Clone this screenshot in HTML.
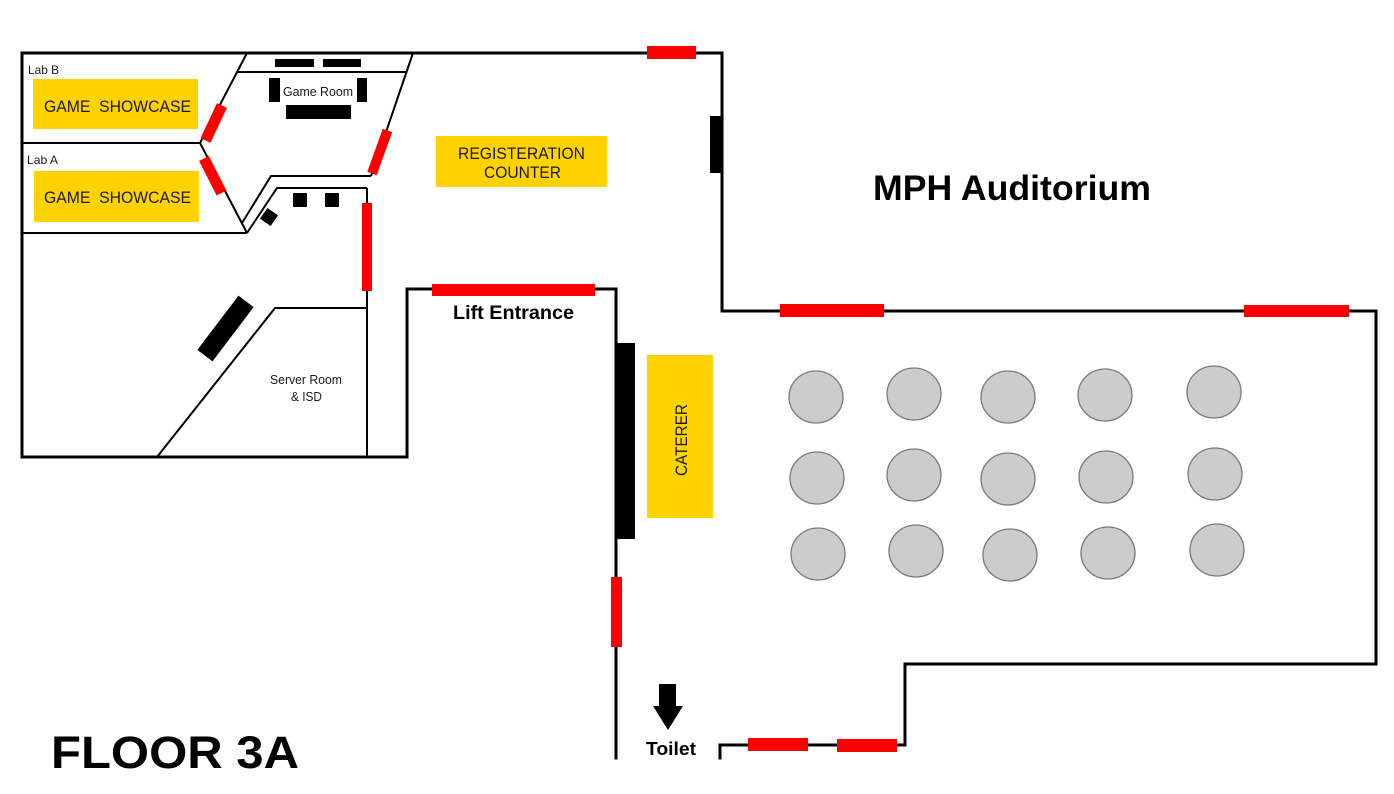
<!DOCTYPE html>
<html>
<head>
<meta charset="utf-8">
<style>
  html, body { margin: 0; padding: 0; background: #ffffff; }
  svg { display: block; }
  text { font-family: "Liberation Sans", "DejaVu Sans", sans-serif; }
</style>
</head>
<body>
<svg width="1394" height="794" viewBox="0 0 1394 794" xmlns="http://www.w3.org/2000/svg">
  <rect x="0" y="0" width="1394" height="794" fill="#ffffff"/>

  <!-- Outer walls -->
  <g fill="none" stroke="#000" stroke-width="3" stroke-linejoin="miter" stroke-linecap="square">
    <path d="M22,53 H722 V311 H1376 V664 H905 V745 H720 V758"/>
    <path d="M22,53 V457 H407 V289 H616 V758"/>
  </g>

  <!-- Inner walls -->
  <g fill="none" stroke="#000" stroke-width="2" stroke-linejoin="miter">
    <path d="M22,143 H200"/>
    <path d="M22,233 H247"/>
    <path d="M247,53 L200,143 L247,233"/>
    <path d="M237,72 H407"/>
    <path d="M413,53 L371,176"/>
    <path d="M242,223 L271,176 H371"/>
    <path d="M247,233 L277,188 H367"/>
    <path d="M367,188 V457"/>
    <path d="M157,457 L275,308 H367"/>
  </g>

  <!-- Yellow boxes -->
  <g fill="#ffd200">
    <rect x="33" y="79" width="165" height="50"/>
    <rect x="34" y="171" width="165" height="51"/>
    <rect x="436" y="136" width="171" height="51"/>
    <rect x="647" y="355" width="66" height="163"/>
  </g>

  <!-- Black furniture / walls -->
  <g fill="#000">
    <rect x="710" y="116" width="13" height="57"/>
    <rect x="616" y="343" width="19" height="196"/>
    <rect x="275" y="59" width="39" height="8"/>
    <rect x="323" y="59" width="38" height="8"/>
    <rect x="269" y="78" width="11" height="24"/>
    <rect x="357" y="78" width="10" height="24"/>
    <rect x="286" y="105" width="65" height="14"/>
    <rect x="293" y="193" width="14" height="14"/>
    <rect x="325" y="193" width="14" height="14"/>
    <rect x="-6.5" y="-6.5" width="13" height="13" transform="translate(269,217) rotate(35)"/>
    <rect x="-34" y="-9.5" width="68" height="19" transform="translate(225.5,328.5) rotate(-52.8)"/>
  </g>

  <!-- Red doors -->
  <g fill="#ff0000">
    <rect x="647" y="46" width="49" height="13"/>
    <rect x="780" y="304" width="104" height="13"/>
    <rect x="1244" y="305" width="105" height="12"/>
    <rect x="432" y="284" width="163" height="12"/>
    <rect x="362" y="203" width="10" height="88"/>
    <rect x="611" y="577" width="11" height="70"/>
    <rect x="748" y="738" width="60" height="13"/>
    <rect x="837" y="739" width="60" height="13"/>
  </g>
  <g stroke="#ff0000" stroke-width="11" stroke-linecap="butt">
    <line x1="205.5" y1="140.5" x2="222" y2="105.5"/>
    <line x1="204" y1="158.5" x2="221.5" y2="193"/>
    <line x1="372" y1="173.5" x2="387.5" y2="130.5" stroke-width="10"/>
  </g>

  <!-- Tables -->
  <g fill="#cccccc" stroke="#7a7a7a" stroke-width="1.3">
    <ellipse cx="816" cy="397" rx="27" ry="26"/>
    <ellipse cx="817" cy="478" rx="27" ry="26"/>
    <ellipse cx="818" cy="554" rx="27" ry="26"/>
    <ellipse cx="914" cy="394" rx="27" ry="26"/>
    <ellipse cx="914" cy="475" rx="27" ry="26"/>
    <ellipse cx="916" cy="551" rx="27" ry="26"/>
    <ellipse cx="1008" cy="397" rx="27" ry="26"/>
    <ellipse cx="1008" cy="479" rx="27" ry="26"/>
    <ellipse cx="1010" cy="555" rx="27" ry="26"/>
    <ellipse cx="1105" cy="395" rx="27" ry="26"/>
    <ellipse cx="1106" cy="477" rx="27" ry="26"/>
    <ellipse cx="1108" cy="553" rx="27" ry="26"/>
    <ellipse cx="1214" cy="392" rx="27" ry="26"/>
    <ellipse cx="1215" cy="474" rx="27" ry="26"/>
    <ellipse cx="1217" cy="550" rx="27" ry="26"/>
  </g>

  <!-- Toilet arrow -->
  <polygon fill="#000" points="659,684 676,684 676,706 683,706 668,730 653,706 659,706"/>

  <!-- Labels -->
  <g fill="#1a1a1a">
    <text x="28" y="74" font-size="12" textLength="31" lengthAdjust="spacingAndGlyphs">Lab B</text>
    <text x="27" y="164" font-size="12" textLength="31" lengthAdjust="spacingAndGlyphs">Lab A</text>
    <text x="44" y="112" font-size="17" textLength="147" lengthAdjust="spacingAndGlyphs" xml:space="preserve">GAME  SHOWCASE</text>
    <text x="44" y="203" font-size="17" textLength="147" lengthAdjust="spacingAndGlyphs" xml:space="preserve">GAME  SHOWCASE</text>
    <text x="283" y="96" font-size="12.5" textLength="70" lengthAdjust="spacingAndGlyphs">Game Room</text>
    <text x="458" y="159" font-size="17" textLength="127" lengthAdjust="spacingAndGlyphs">REGISTERATION</text>
    <text x="484" y="178" font-size="17" textLength="77" lengthAdjust="spacingAndGlyphs">COUNTER</text>
    <text transform="translate(687,440) rotate(-90)" x="-36" y="0" font-size="17" textLength="72" lengthAdjust="spacingAndGlyphs">CATERER</text>
    <text x="270" y="384" font-size="12.5" textLength="72" lengthAdjust="spacingAndGlyphs">Server Room</text>
    <text x="291" y="401" font-size="12.5" textLength="31" lengthAdjust="spacingAndGlyphs">&amp; ISD</text>
  </g>
  <g fill="#000" font-weight="bold">
    <text x="453" y="319" font-size="19.5" textLength="121" lengthAdjust="spacingAndGlyphs">Lift Entrance</text>
    <text x="873" y="200" font-size="35" textLength="278" lengthAdjust="spacingAndGlyphs">MPH Auditorium</text>
    <text x="51" y="768" font-size="45" textLength="248" lengthAdjust="spacingAndGlyphs">FLOOR 3A</text>
    <text x="646" y="755" font-size="18.5" textLength="50" lengthAdjust="spacingAndGlyphs">Toilet</text>
  </g>
</svg>
</body>
</html>
